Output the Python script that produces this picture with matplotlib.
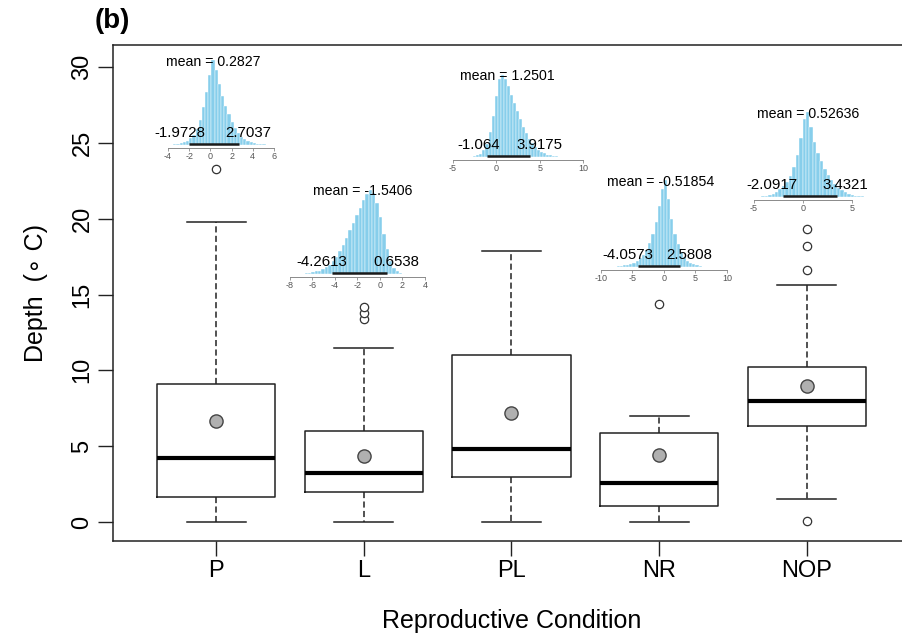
import matplotlib.pyplot as plt
import numpy as np

plt.rcParams['font.family'] = ['Liberation Sans', 'DejaVu Sans']
plt.rcParams['axes.unicode_minus'] = False

# Box summaries per reproductive condition
conditions = ['P', 'L', 'PL', 'NR', 'NOP']
q1 = [1.65, 1.98, 2.97, 1.05, 6.30]
medians = [4.25, 3.23, 4.80, 2.57, 7.98]
q3 = [9.10, 6.00, 11.00, 5.87, 10.20]
whis_lo = [0.0, 0.0, 0.0, 0.0, 1.5]
whis_hi = [19.8, 11.5, 17.9, 7.0, 15.6]
means = [6.66, 4.35, 7.18, 4.42, 8.95]
outliers = [[23.3], [13.4, 13.8, 14.2], [], [14.4], [0.05, 16.6, 18.2, 19.3]]

# Posterior summaries shown above each box
post_mean = [0.2827, -1.5406, 1.2501, -0.51854, 0.52636]
hdi_lo = [-1.9728, -4.2613, -1.064, -4.0573, -2.0917]
hdi_hi = [2.7037, 0.6538, 3.9175, 2.5808, 3.4321]

# Posterior histograms: first bin edge, bin width, relative heights
hist_start = [-3.5, -7.0, -3.0, -8.0, -4.6]
hist_step = [0.3, 0.3, 0.35, 0.5, 0.35]
hist_P = [0.01, 0.01, 0.02, 0.03, 0.05, 0.08, 0.12, 0.19, 0.30, 0.45, 0.62, 0.82,
          1.00, 0.88, 0.72, 0.58, 0.46, 0.36, 0.27, 0.20, 0.14, 0.10, 0.07, 0.05,
          0.03, 0.02, 0.015, 0.01, 0.006, 0.004]
hist_L = [0.005, 0.01, 0.015, 0.02, 0.03, 0.04, 0.06, 0.08, 0.11, 0.15, 0.20, 0.27,
          0.35, 0.43, 0.52, 0.61, 0.70, 0.79, 0.88, 0.95, 1.00, 0.96, 0.85, 0.68,
          0.48, 0.30, 0.15, 0.07, 0.03, 0.01]
hist_PL = [0.005, 0.01, 0.02, 0.04, 0.08, 0.16, 0.30, 0.50, 0.75, 0.95, 1.00, 0.95,
           0.86, 0.76, 0.66, 0.56, 0.46, 0.37, 0.29, 0.22, 0.17, 0.12, 0.09, 0.065,
           0.045, 0.03, 0.02, 0.013, 0.008, 0.005]
hist_NR = [0.005, 0.008, 0.012, 0.018, 0.025, 0.035, 0.05, 0.07, 0.10, 0.14, 0.20,
           0.28, 0.38, 0.52, 0.70, 0.90, 1.00, 0.78, 0.55, 0.38, 0.26, 0.17, 0.11,
           0.07, 0.045, 0.03, 0.018, 0.01]
hist_NOP = [0.005, 0.01, 0.015, 0.025, 0.04, 0.06, 0.09, 0.13, 0.18, 0.25, 0.35, 0.50,
            0.70, 0.92, 1.00, 0.82, 0.65, 0.52, 0.42, 0.33, 0.26, 0.20, 0.15, 0.11,
            0.08, 0.055, 0.038, 0.025, 0.015, 0.01, 0.006, 0.003]
hist_heights = [hist_P, hist_L, hist_PL, hist_NR, hist_NOP]

# Inset axis ticks and placement (pixels): tick range, x of end ticks, baseline y, peak y
inset_ticks = [(-4, 6, 2), (-8, 4, 2), (-5, 10, 5), (-10, 10, 5), (-5, 5, 5)]
inset_px = [(168, 274, 145, 60), (290, 425, 274, 190), (453, 583, 157, 75),
            (601, 727, 267, 180), (754, 852, 197, 112)]

W, H = 903, 638
fig = plt.figure(figsize=(W / 100, H / 100), dpi=100)


def px_box(x0, y0, x1, y1):
    return [x0 / W, 1 - y1 / H, (x1 - x0) / W, (y1 - y0) / H]


ax = fig.add_axes(px_box(113, 45, 910, 541))
stats = []
for i, c in enumerate(conditions):
    stats.append(dict(label=c, q1=q1[i], med=medians[i], q3=q3[i],
                      whislo=whis_lo[i], whishi=whis_hi[i], mean=means[i],
                      fliers=outliers[i]))
line_col = '#222222'
ax.bxp(stats, positions=range(1, 6), widths=0.8, capwidths=0.4, showmeans=True,
       boxprops=dict(color=line_col, lw=1.1),
       medianprops=dict(color='black', lw=3),
       whiskerprops=dict(color=line_col, lw=1.1, linestyle=(0, (4, 2.2))),
       capprops=dict(color=line_col, lw=1.1),
       flierprops=dict(marker='o', mfc='white', mec='#333333', ms=6, mew=0.9),
       meanprops=dict(marker='o', mfc='#b0b0b0', mec='#444444', ms=9.5, mew=1))
ax.set_xlim(0.3, 5.7)
ax.set_ylim(-1.25, 31.45)
ax.set_yticks(range(0, 31, 5))
ax.set_yticklabels([str(v) for v in range(0, 31, 5)], rotation=90, va='center')
ax.set_xticks(range(1, 6))
ax.set_xticklabels(conditions)
ax.tick_params(axis='both', length=11, width=1, labelsize=17, pad=3, color=line_col)
for s in ax.spines.values():
    s.set_color(line_col)
    s.set_linewidth(1.1)
ax.set_xlabel('Reproductive Condition', fontsize=18, labelpad=19)
ax.set_ylabel('Depth  (\u2218 C)', fontsize=18, labelpad=17)
fig.text(95 / W, 1 - 21 / H, '(b)', fontsize=20, fontweight='bold', va='center', ha='left')

# Posterior histograms above the boxes
hdi_texts = []
for i in range(5):
    lo, hi, step = inset_ticks[i]
    x0, x1, yb, yt = inset_px[i]
    ia = fig.add_axes(px_box(x0, yt, x1, yb))
    ia.patch.set_visible(False)
    ia.set_xlim(lo, hi)
    ia.set_ylim(0, 1)
    h = hist_heights[i]
    edges = hist_start[i] + hist_step[i] * np.arange(len(h))
    ia.bar(edges, h, width=hist_step[i], align='edge', color='#87ceeb',
           edgecolor='white', lw=0.3, clip_on=False)
    ia.plot([hdi_lo[i], hdi_hi[i]], [0.015, 0.015], color='#1a1a1a', lw=1.8,
            solid_capstyle='butt', clip_on=False)
    ia.text(post_mean[i], 0.9, 'mean = ' + str(post_mean[i]), ha='center',
            va='bottom', fontsize=10.2)
    for x, frac in ((hdi_lo[i], 0.7), (hdi_hi[i], 0.3)):
        t = ia.annotate(str(x), xy=(x, 0), xytext=(0, 5), textcoords='offset pixels',
                        ha='center', va='bottom', fontsize=10.8)
        hdi_texts.append((t, frac))
    for side in ('left', 'right', 'top'):
        ia.spines[side].set_visible(False)
    ia.spines['bottom'].set_position(('outward', 2))
    ia.spines['bottom'].set_bounds(lo, hi)
    ia.spines['bottom'].set_color('#8a8a8a')
    ia.spines['bottom'].set_linewidth(0.7)
    ia.set_yticks([])
    ia.set_xticks(range(lo, hi + 1, step))
    ia.tick_params(axis='x', labelsize=6.5, length=2, width=0.6, pad=1,
                   color='#8a8a8a', labelcolor='#555555')

# Shift the HDI labels so the given fraction of their width sits on the HDI end
fig.canvas.draw()
renderer = fig.canvas.get_renderer()
for t, frac in hdi_texts:
    w = t.get_window_extent(renderer).width
    t.xyann = ((0.5 - frac) * w, 5)

fig.savefig('out.png', dpi=100)
